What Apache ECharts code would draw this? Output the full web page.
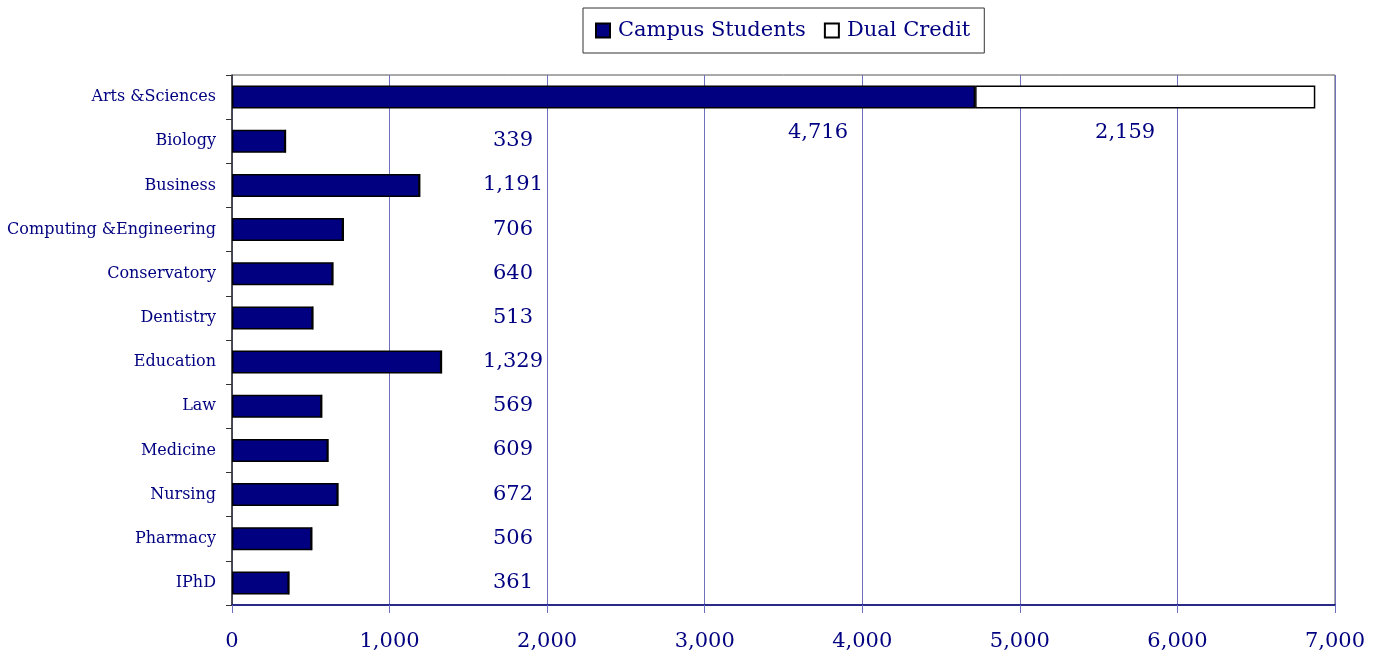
<!DOCTYPE html>
<html>
<head>
<meta charset="utf-8">
<script src="https://cdn.jsdelivr.net/npm/echarts@6/dist/echarts.min.js"></script>
<style>
  html, body { margin: 0; padding: 0; background: #fff; }
  #chart { width: 1380px; height: 662px; }
</style>
</head>
<body>
<div id="chart"></div>
<script>
  // data
  var colleges = ['Arts &Sciences', 'Biology', 'Business', 'Computing &Engineering', 'Conservatory',
    'Dentistry', 'Education', 'Law', 'Medicine', 'Nursing', 'Pharmacy', 'IPhD'];
  var campusStudents = [4716, 339, 1191, 706, 640, 513, 1329, 569, 609, 672, 506, 361];
  var dualCredit = [2159, 0, 0, 0, 0, 0, 0, 0, 0, 0, 0, 0];

  var navy = '#000080';
  var serif = 'DejaVu Serif';

  function fmt(v) {
    return v.toString().replace(/\B(?=(\d{3})+(?!\d))/g, ',');
  }

  // labels sit in a column to the right of the short bars, like the original
  var campusData = campusStudents.map(function (v, i) {
    return {
      value: v,
      label: { position: i === 0 ? [586, 47] : [281, 11] }
    };
  });
  var dualData = dualCredit.map(function (v, i) {
    return {
      value: v,
      label: { show: v > 0, position: [150, 47] }
    };
  });

  var chart = echarts.init(document.getElementById('chart'));
  chart.setOption({
    animation: false,
    grid: {
      left: 232,
      right: 45,
      top: 75,
      bottom: 57,
      show: true,
      borderColor: '#555',
      borderWidth: 1
    },
    legend: {
      data: ['Campus Students', 'Dual Credit'],
      icon: 'rect',
      left: 583,
      top: 8,
      padding: [12, 14, 12, 12],
      itemGap: 18,
      itemWidth: 14,
      itemHeight: 14,
      borderColor: '#333',
      borderWidth: 1,
      textStyle: { color: navy, fontFamily: serif, fontSize: 21, padding: [0, 0, 0, 3] }
    },
    xAxis: {
      type: 'value',
      min: 0,
      max: 7000,
      interval: 1000,
      axisLine: { show: true, lineStyle: { color: navy, width: 1.5 } },
      axisTick: { show: true, length: 8, lineStyle: { color: '#6f6fc0' } },
      splitLine: { show: true, lineStyle: { color: '#6f6fc0', width: 1 } },
      axisLabel: {
        color: navy,
        fontFamily: serif,
        fontSize: 21,
        margin: 26,
        formatter: fmt
      }
    },
    yAxis: {
      type: 'category',
      data: colleges,
      inverse: true,
      axisLine: { show: true, lineStyle: { color: '#333', width: 1.5 } },
      axisTick: { show: true, length: 6, lineStyle: { color: '#333' } },
      axisLabel: {
        color: navy,
        fontFamily: serif,
        fontSize: 16,
        margin: 16
      }
    },
    series: [
      {
        name: 'Campus Students',
        type: 'bar',
        stack: 'total',
        barWidth: '52%',
        data: campusData,
        itemStyle: { color: navy, borderColor: '#000', borderWidth: 1.5 },
        label: {
          show: true,
          align: 'center',
          verticalAlign: 'middle',
          color: navy,
          fontFamily: serif,
          fontSize: 21,
          formatter: function (p) { return fmt(p.value); }
        }
      },
      {
        name: 'Dual Credit',
        type: 'bar',
        stack: 'total',
        barWidth: '52%',
        data: dualData,
        itemStyle: { color: '#fff', borderColor: '#000', borderWidth: 1.5 },
        label: {
          align: 'center',
          verticalAlign: 'middle',
          color: navy,
          fontFamily: serif,
          fontSize: 21,
          formatter: function (p) { return fmt(p.value); }
        }
      }
    ]
  });
</script>
</body>
</html>
